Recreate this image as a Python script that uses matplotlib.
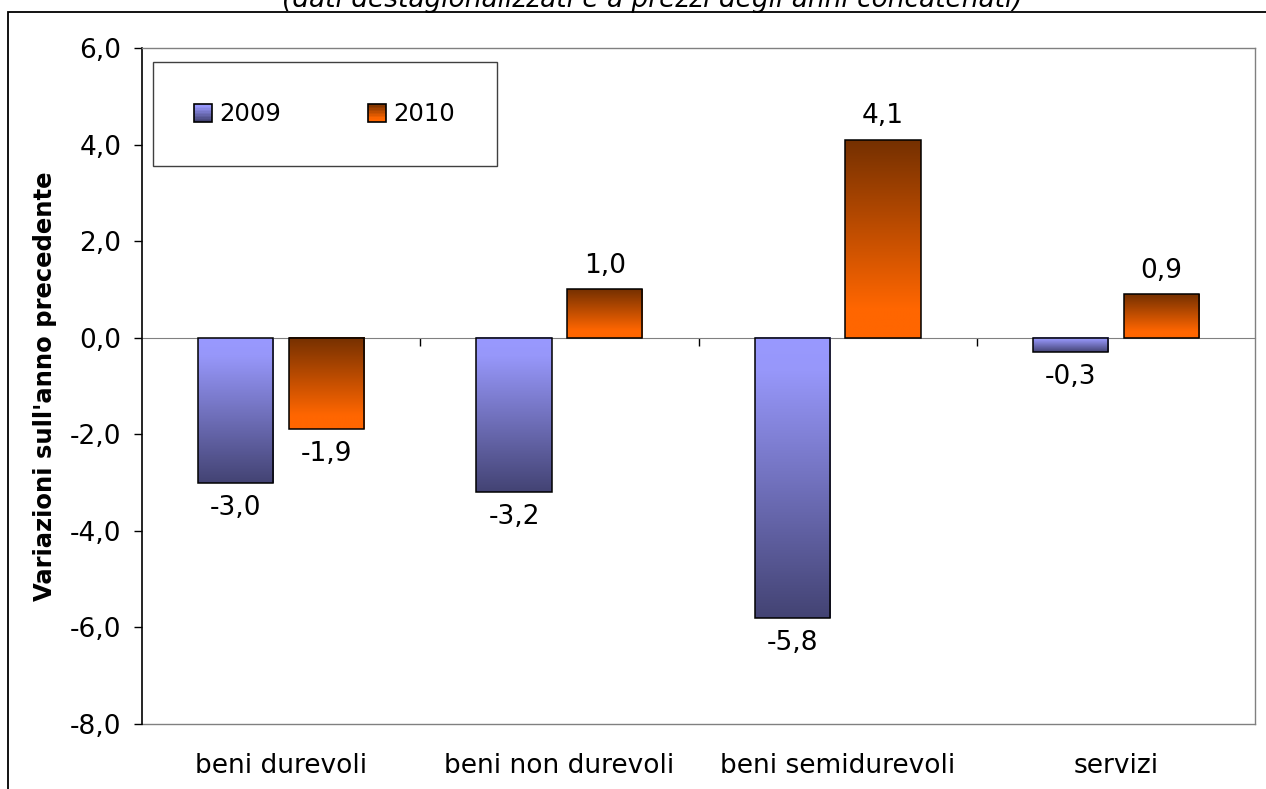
import numpy as np
import matplotlib
matplotlib.use("Agg")
import matplotlib.pyplot as plt
from matplotlib.colors import LinearSegmentedColormap
from matplotlib.patches import Rectangle
from matplotlib.legend_handler import HandlerBase
from matplotlib.ticker import FuncFormatter, FixedLocator


categorie = ["beni durevoli", "beni non durevoli", "beni semidurevoli", "servizi"]
anni = ["2009", "2010"]
var_2009 = [-3.0, -3.2, -5.8, -0.3]
var_2010 = [-1.9, 1.0, 4.1, 0.9]
y_ticks = [-8, -6, -4, -2, 0, 2, 4, 6]

sottotitolo = "(dati destagionalizzati e a prezzi degli anni concatenati)"
titolo_y = "Variazioni sull'anno precedente"

plt.rcParams["font.family"] = ["DejaVu Sans"]

# gradients run from the top of each bar (0) to its bottom (1)
cmap_2009 = LinearSegmentedColormap.from_list(
    "blu", [(0.0, "#9999FF"), (0.12, "#9797FA"), (1.0, "#434373")])
cmap_2010 = LinearSegmentedColormap.from_list(
    "arancio", [(0.0, "#753000"), (0.85, "#FF6600"), (1.0, "#FF6600")])


def fmt_virgola(v, pos=None):
    return f"{v:.1f}".replace(".", ",")


class GradientHandler(HandlerBase):
    # legend square filled with horizontal stripes of the bar gradient
    def __init__(self, cmap, n=12):
        super().__init__()
        self.cmap = cmap
        self.n = n

    def create_artists(self, legend, orig_handle, xdescent, ydescent,
                       width, height, fontsize, trans):
        out = []
        h = height / self.n
        for k in range(self.n):
            y = -ydescent + height - (k + 1) * h
            r = Rectangle((-xdescent, y), width, h, facecolor=self.cmap(k / (self.n - 1)),
                          edgecolor="none", transform=trans)
            out.append(r)
        out.append(Rectangle((-xdescent, -ydescent), width, height, fill=False,
                             edgecolor="black", linewidth=1.2, transform=trans))
        return out


fig = plt.figure(figsize=(12.66, 7.89), dpi=100)
ax = fig.add_axes([0.1122, 0.0824, 0.8791, 0.8568])

x = np.arange(len(categorie))
w = 0.27
off = 0.163

bars_a = ax.bar(x - off, var_2009, w, facecolor="none", edgecolor="black", linewidth=1.1, zorder=4)
bars_b = ax.bar(x + off, var_2010, w, facecolor="none", edgecolor="black", linewidth=1.1, zorder=4)

grad = np.linspace(0, 1, 256).reshape(-1, 1)
for bars, cmap in ((bars_a, cmap_2009), (bars_b, cmap_2010)):
    for b in bars:
        x0 = b.get_x()
        x1 = x0 + b.get_width()
        y0 = b.get_y()
        y1 = y0 + b.get_height()
        ax.imshow(grad, cmap=cmap, aspect="auto", origin="upper",
                  extent=[x0, x1, min(y0, y1), max(y0, y1)], zorder=3, interpolation="bilinear")

# value labels
for bars, vals in ((bars_a, var_2009), (bars_b, var_2010)):
    for b, v in zip(bars, vals):
        cx = b.get_x() + b.get_width() / 2
        dy = 17 if v >= 0 else -18
        ax.annotate(fmt_virgola(v), (cx, v), xytext=(0, dy), textcoords="offset points",
                    ha="center", va="center", fontsize=19)

ax.set_xlim(-0.5, len(categorie) - 0.5)
ax.set_ylim(-8, 6)

ax.yaxis.set_major_locator(FixedLocator(y_ticks))
ax.yaxis.set_major_formatter(FuncFormatter(fmt_virgola))
ax.tick_params(axis="y", labelsize=19, length=6, width=1, pad=9, colors="black")

# category separators on the zero line
ax.xaxis.set_major_locator(FixedLocator(x[:-1] + 0.5))
ax.xaxis.set_major_formatter(FuncFormatter(lambda v, p: ""))
ax.tick_params(axis="x", length=6, width=1, color="black", direction="out")

ax.spines["bottom"].set_position(("data", 0))
ax.spines["bottom"].set_color("#808080")
ax.spines["bottom"].set_zorder(2)
ax.spines["left"].set_color("black")
ax.spines["left"].set_linewidth(1.2)
for s in ("top", "right"):
    ax.spines[s].set_color("#808080")
    ax.spines[s].set_linewidth(1.0)
ax.axhline(-8, color="#808080", linewidth=1.0, clip_on=False, zorder=1)

# category names under the plot area
for xi, nome in zip(x, categorie):
    ax.annotate(nome, (xi, -8), xytext=(0, -30), textcoords="offset points",
                ha="center", va="center", fontsize=19, annotation_clip=False)

# legend inside its own framed box
ax.add_patch(Rectangle((0.0099, 0.825), 0.309, 0.154, transform=ax.transAxes,
                       facecolor="white", edgecolor="#404040", linewidth=1.0, zorder=5))
leg = ax.legend([bars_a, bars_b], anni, ncol=2, frameon=False, fontsize=17.5,
                loc="center", bbox_to_anchor=(0.164, 0.902),
                handler_map={bars_a: GradientHandler(cmap_2009), bars_b: GradientHandler(cmap_2010)},
                handlelength=0.74, handleheight=0.74, handletextpad=0.3, columnspacing=3.6)
leg.set_zorder(6)

fig.text(0.0355, 0.511, titolo_y, rotation=90, ha="center", va="center",
         fontsize=17.5, fontweight="bold")

# subtitle sits mostly above the top edge
fig.text(0.515, 1 - 7 / 789, sottotitolo, ha="center", va="baseline",
         fontsize=19, style="italic")

# outer chart frame
fig.patches.append(Rectangle((8 / 1266, -0.2), 1.2, 0.2 + (1 - 12 / 789),
                             transform=fig.transFigure, fill=False,
                             edgecolor="black", linewidth=1.3))

fig.savefig("out.png", dpi=100)
